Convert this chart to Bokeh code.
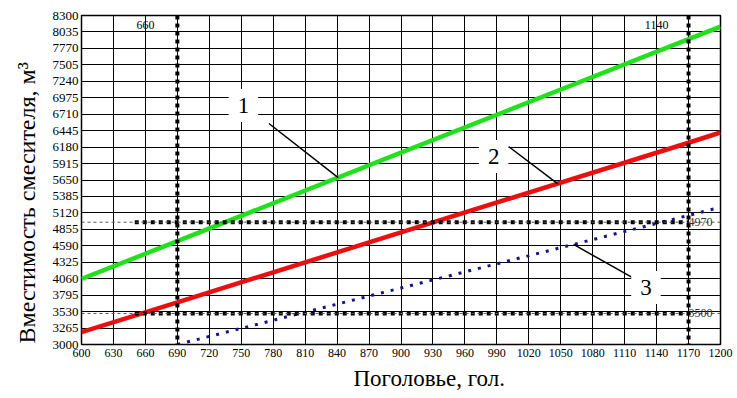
import numpy as np
from bokeh.plotting import figure
from bokeh.models import Label, FixedTicker, Span, Title
from bokeh.embed import file_html
from bokeh.resources import INLINE

# ---- data ----
x_ticks = [600, 630, 660, 690, 720, 750, 780, 810, 840, 870, 900, 930, 960, 990,
           1020, 1050, 1080, 1110, 1140, 1170, 1200]
y_ticks = [3000, 3265, 3530, 3795, 4060, 4325, 4590, 4855, 5120, 5385, 5650, 5915,
           6180, 6445, 6710, 6975, 7240, 7505, 7770, 8035, 8300]

herd1 = [600, 690, 900, 1170, 1200]
vol1 = [4055, 4665, 6090, 7920, 8120]          # curve 1 (green)
herd2 = [600, 690, 900, 1170, 1200]
vol2 = [3200, 3680, 4805, 6250, 6415]          # curve 2 (red)
herd3 = [690, 900, 1170, 1200]
vol3 = [3000, 3910, 5080, 5210]                # curve 3 (blue dotted)

marker_x = [690, 1170]
marker_x_labels = ["660", "1140"]
marker_x_label_pos = [660, 1140]
marker_y = [4970, 3500]
marker_y_labels = ["4970", "3500"]

curve_names = ["1", "2", "3"]

x_title = "Поголовье, гол."
y_title = "Вместимость смесителя, м³"

SERIF = "Liberation Serif"

p = figure(width=737, height=398, x_range=(600, 1200), y_range=(3000, 8300),
           output_backend="svg", toolbar_location=None,
           min_border_left=81, min_border_right=17, min_border_top=15, min_border_bottom=54)
p.background_fill_color = "white"
p.border_fill_color = "white"
p.outline_line_color = "black"
p.outline_line_width = 1.5

for ax in (p.xaxis, p.yaxis):
    ax.major_tick_out = 0
    ax.major_tick_in = 0
    ax.minor_tick_out = 0
    ax.minor_tick_in = 0
    ax.axis_line_color = None
    ax.major_label_text_font = SERIF
    ax.major_label_text_color = "black"
p.xaxis.ticker = FixedTicker(ticks=x_ticks)
p.yaxis.ticker = FixedTicker(ticks=y_ticks)
p.xaxis.major_label_text_font_size = "12px"
p.yaxis.major_label_text_font_size = "13px"
p.xaxis.major_label_standoff = 4
p.yaxis.major_label_standoff = 3

p.xgrid.ticker = FixedTicker(ticks=x_ticks)
p.ygrid.ticker = FixedTicker(ticks=y_ticks)
for g in (p.xgrid, p.ygrid):
    g.grid_line_color = "black"
    g.grid_line_width = 1
    g.grid_line_alpha = 1.0

# thin dashed marker guides
for yv in marker_y:
    p.add_layout(Span(location=yv, dimension="width", line_color="#555555",
                      line_width=1, line_dash="3 3"))

# curves
p.line(herd1, vol1, line_color="#22e01e", line_width=4.5)
p.line(herd2, vol2, line_color="#e81010", line_width=4.5)
p.line(herd3, vol3, line_color="#14148c", line_width=3, line_dash="3 7")

# thick dotted markers
for xv in marker_x:
    p.add_layout(Span(location=xv, dimension="height", line_color="black",
                      line_width=4, line_dash="4 4"))
p.segment(x0=[650] * len(marker_y), y0=marker_y, x1=[marker_x[1]] * len(marker_y),
          y1=marker_y, line_color="black", line_width=4, line_dash="4 4")

for txt, xv in zip(marker_x_labels, marker_x_label_pos):
    p.add_layout(Label(x=xv, y=8140, text=txt, text_font=SERIF, text_font_size="12px",
                       text_align="center", text_baseline="middle", text_color="black"))
for txt, yv in zip(marker_y_labels, marker_y):
    p.add_layout(Label(x=marker_x[1], y=yv, text=txt, text_font=SERIF, text_font_size="12px",
                       text_align="left", text_baseline="middle", text_color="#333333"))

# leader lines (targets on the curves)
lead_start_x = [776, 1001, 1117]
lead_start_y = [6560, 6190, 4080]
lead_end_x = [841, 1047, 1062]
lead_end_y = [float(np.interp(lead_end_x[0], herd1, vol1)),
              float(np.interp(lead_end_x[1], herd2, vol2)),
              float(np.interp(lead_end_x[2], herd3, vol3))]
p.segment(x0=lead_start_x, y0=lead_start_y, x1=lead_end_x, y1=lead_end_y,
          line_color="black", line_width=1.5)

name_x = [752, 987, 1130]
name_y = [6850, 6030, 3920]
for txt, xv, yv in zip(curve_names, name_x, name_y):
    p.add_layout(Label(x=xv, y=yv, text=txt, text_font=SERIF, text_font_size="23px",
                       text_align="center", text_baseline="middle", text_color="black",
                       background_fill_color="white", padding=9))

# axis titles as side-panel titles
p.add_layout(Title(text=x_title, align="left", offset=272, standoff=9,
                   text_font=SERIF, text_font_size="23px", text_font_style="normal",
                   text_color="black"), "below")
p.add_layout(Title(text=y_title, align="left", offset=1, standoff=20,
                   text_font=SERIF, text_font_size="24px", text_font_style="normal",
                   text_color="black"), "left")

open("out.html", "w").write(file_html(p, INLINE))
